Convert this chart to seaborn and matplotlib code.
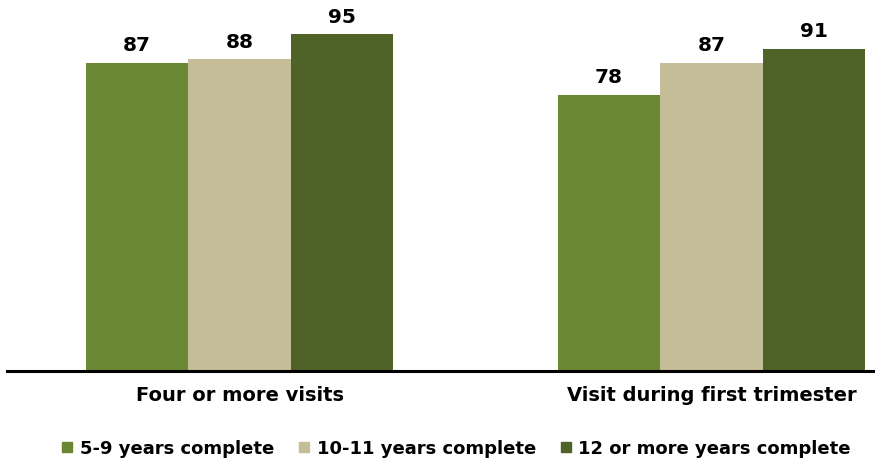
import pandas as pd
import seaborn as sns
import matplotlib.pyplot as plt
from matplotlib.lines import Line2D

categories = ["Four or more visits", "Visit during first trimester"]
education = ["5-9 years complete", "10-11 years complete", "12 or more years complete"]
values_5_9 = [87, 78]
values_10_11 = [88, 87]
values_12_plus = [95, 91]
colors = ["#6A8734", "#C4BD97", "#4F6228"]

df = pd.DataFrame({
    "category": categories * 3,
    "education": [education[0]] * 2 + [education[1]] * 2 + [education[2]] * 2,
    "value": values_5_9 + values_10_11 + values_12_plus,
})

sns.set_theme(style="white")
plt.rcParams["font.family"] = ["DejaVu Sans"]
plt.rcParams["text.color"] = "black"

fig = plt.figure(figsize=(8.75, 4.64), dpi=100)
ax = fig.add_axes([7 / 875, (464 - 372) / 464, 868 / 875, 372 / 464])

sns.barplot(
    data=df, x="category", y="value", hue="education",
    hue_order=education, order=categories, palette=colors,
    width=0.652, gap=0, linewidth=0, saturation=1, ax=ax, legend=False,
)

for cont in ax.containers:
    ax.bar_label(cont, fmt="%d", padding=6, fontsize=14.5, fontweight="bold", color="black")

ax.set_ylim(0, 105)
ax.set_xlim(-0.4926, 1.3464)
ax.set_xlabel("")
ax.set_ylabel("")
ax.set_yticks([])
for side in ["top", "right", "left"]:
    ax.spines[side].set_visible(False)
ax.spines["bottom"].set_color("black")
ax.spines["bottom"].set_linewidth(2.2)
ax.tick_params(axis="x", length=0, pad=10, labelsize=14, labelcolor="black")
for lbl in ax.get_xticklabels():
    lbl.set_fontweight("bold")

handles = [Line2D([0], [0], marker="s", linestyle="", markersize=7,
                  markerfacecolor=c, markeredgecolor=c) for c in colors]
leg = fig.legend(
    handles, education, loc="center left", bbox_to_anchor=(61 / 875, 1 - 449 / 464),
    ncol=3, frameon=False, handlelength=0.7, handletextpad=0.35,
    columnspacing=1.3, borderpad=0, borderaxespad=0,
    prop={"size": 13, "weight": "bold"},
)
for t in leg.get_texts():
    t.set_color("black")

fig.savefig("out.png", dpi=100)
